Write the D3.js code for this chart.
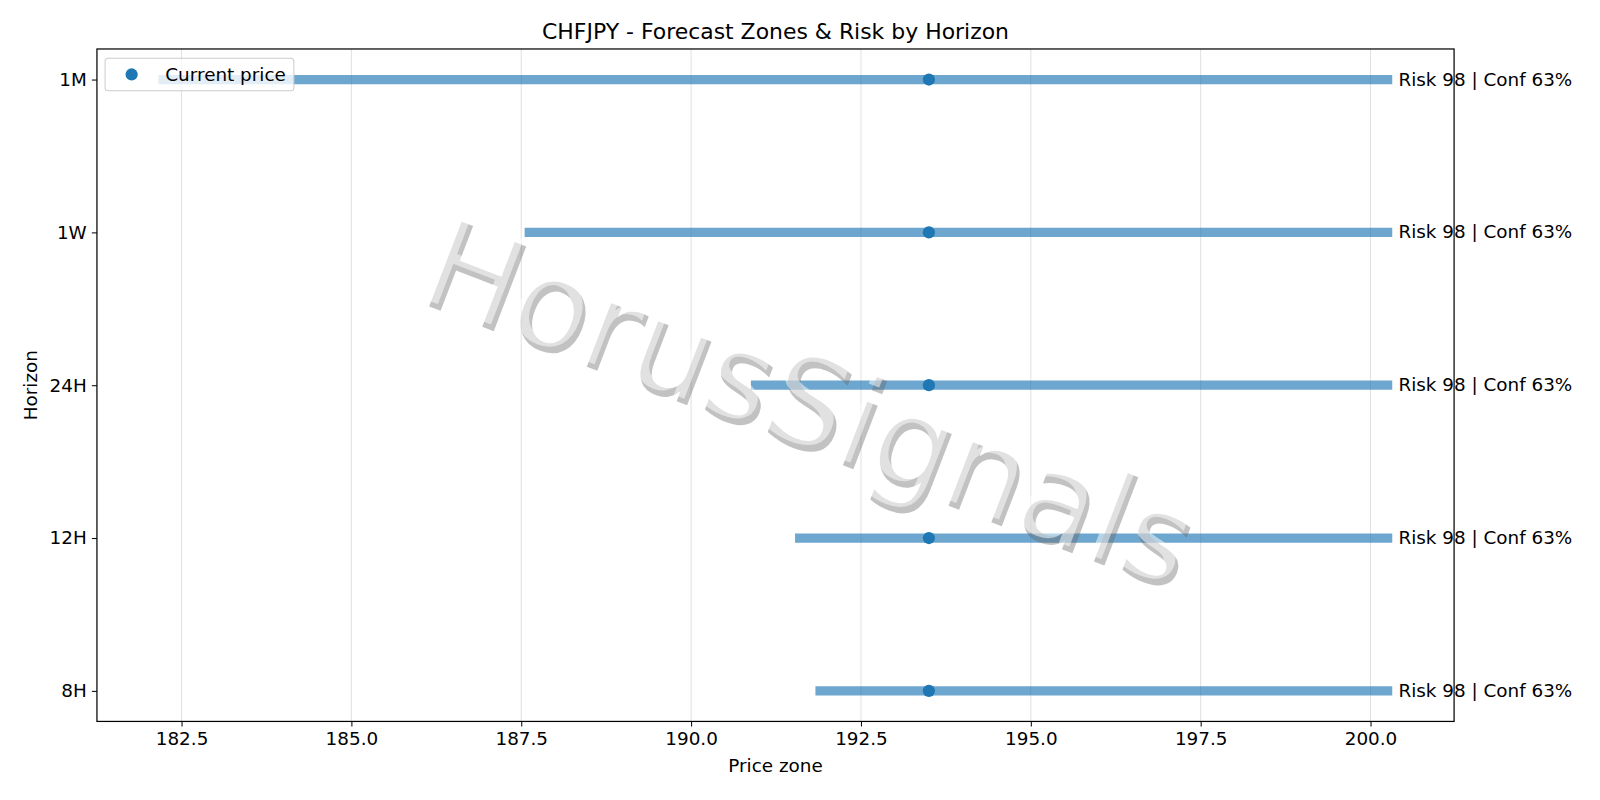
<!DOCTYPE html>
<html>
<head>
<meta charset="utf-8">
<script src="https://cdn.jsdelivr.net/npm/d3@7"></script>
<style>body{margin:0;background:#fff}svg{display:block}text{font-family:"DejaVu Sans",sans-serif}</style>
</head>
<body>
<svg id="chart" width="1600" height="800" viewBox="0 0 1568 784"></svg>
<script>
// Horizons, zone ranges and the current price
var horizons = ["1M", "1W", "24H", "12H", "8H"];
var zoneLow = [182.16, 187.55, 190.88, 191.53, 191.83];
var zoneHigh = [200.32, 200.32, 200.32, 200.32, 200.32];
var currentPrice = [193.5, 193.5, 193.5, 193.5, 193.5];
var labels = ["Risk 98 | Conf 63%", "Risk 98 | Conf 63%", "Risk 98 | Conf 63%", "Risk 98 | Conf 63%", "Risk 98 | Conf 63%"];
var xTicks = [182.5, 185.0, 187.5, 190.0, 192.5, 195.0, 197.5, 200.0];

var svg = d3.select("#chart");
var mLeft = 95, mRight = 1425, mTop = 48, mBottom = 707;
var fs = 18;

var x = d3.scaleLinear().domain([181.255, 201.23]).range([mLeft, mRight]);
// y positions: 8H at bottom
var order = horizons.slice().reverse();
var y = d3.scaleLinear().domain([-0.2, 4.2]).range([mBottom, mTop]);
var yPos = h => y(order.indexOf(h));

// grid
svg.append("g").selectAll("line").data(xTicks).join("line")
  .attr("x1", d => x(d)).attr("x2", d => x(d))
  .attr("y1", mTop).attr("y2", mBottom)
  .attr("stroke", "#000").attr("stroke-opacity", 0.12).attr("stroke-width", 1);

// zones
svg.append("g").selectAll("line").data(horizons).join("line")
  .attr("x1", (d, i) => x(zoneLow[i])).attr("x2", (d, i) => x(zoneHigh[i]))
  .attr("y1", d => yPos(d)).attr("y2", d => yPos(d))
  .attr("stroke", "#1f77b4").attr("stroke-opacity", 0.65).attr("stroke-width", 9);

svg.append("g").selectAll("circle").data(horizons).join("circle")
  .attr("cx", (d, i) => x(currentPrice[i])).attr("cy", d => yPos(d))
  .attr("r", 6).attr("fill", "#1f77b4");

svg.append("g").selectAll("text").data(horizons).join("text")
  .attr("x", (d, i) => x(zoneHigh[i]) + 6).attr("y", d => yPos(d) + 6)
  .attr("font-size", fs).text((d, i) => labels[i]);

// watermark
var wm = svg.append("g").attr("transform", "translate(778,432) rotate(21)");
wm.append("text").attr("x", 5).attr("y", 5).attr("text-anchor", "middle")
  .attr("font-size", 122).attr("fill", "#666").attr("fill-opacity", 0.4).text("HorusSignals");
wm.append("text").attr("text-anchor", "middle")
  .attr("font-size", 122).attr("fill", "#fff").attr("fill-opacity", 0.5).text("HorusSignals");

// frame
svg.append("rect").attr("x", mLeft).attr("y", mTop).attr("width", mRight - mLeft).attr("height", mBottom - mTop)
  .attr("fill", "none").attr("stroke", "#000").attr("stroke-width", 1.2);

// axes
var xAxis = svg.append("g").attr("transform", `translate(0,${mBottom})`)
  .call(d3.axisBottom(x).tickValues(xTicks).tickFormat(d3.format(".1f")).tickSizeOuter(0).tickSize(5).tickPadding(5));
var yAxis = svg.append("g").attr("transform", `translate(${mLeft},0)`)
  .call(d3.axisLeft(y).tickValues(d3.range(5)).tickFormat(i => order[i]).tickSizeOuter(0).tickSize(5).tickPadding(5));
[xAxis, yAxis].forEach(a => {
  a.select(".domain").remove();
  a.selectAll("text").attr("font-size", fs).attr("font-family", "DejaVu Sans").attr("fill", "#000");
});

svg.append("text").attr("x", (mLeft + mRight) / 2).attr("y", 757).attr("text-anchor", "middle")
  .attr("font-size", fs).text("Price zone");
svg.append("text").attr("transform", `translate(36,${(mTop + mBottom) / 2}) rotate(-90)`).attr("text-anchor", "middle")
  .attr("font-size", fs).text("Horizon");
svg.append("text").attr("x", (mLeft + mRight) / 2).attr("y", 38).attr("text-anchor", "middle")
  .attr("font-size", 21.5).text("CHFJPY - Forecast Zones & Risk by Horizon");

// legend
var lg = svg.append("g").attr("transform", "translate(103,57)");
lg.append("rect").attr("width", 185).attr("height", 32).attr("rx", 3)
  .attr("fill", "#fff").attr("fill-opacity", 0.8).attr("stroke", "#ccc");
lg.append("circle").attr("cx", 26).attr("cy", 16).attr("r", 6).attr("fill", "#1f77b4");
lg.append("text").attr("x", 59).attr("y", 22).attr("font-size", fs).text("Current price");
</script>
</body>
</html>
